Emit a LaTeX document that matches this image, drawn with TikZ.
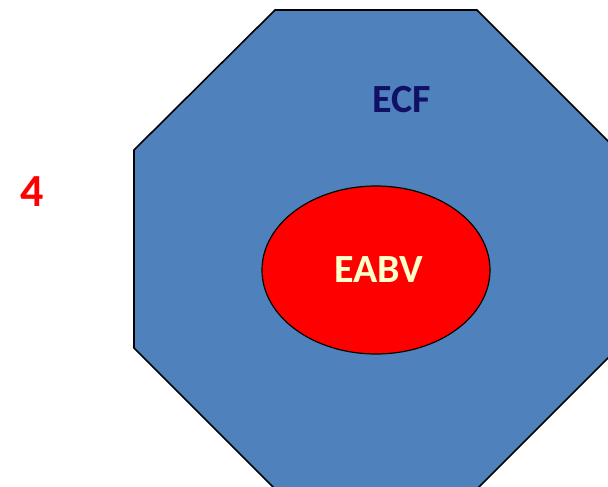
\documentclass[tikz,border=0pt]{standalone}
\usepackage{fontspec}
\setmainfont{Carlito}
\usetikzlibrary{shapes.geometric}

\definecolor{ecfblue}{RGB}{79,129,189}
\definecolor{ecfnavy}{RGB}{16,16,100}
\definecolor{eabvcream}{RGB}{255,255,204}

\tikzset{
  compartment/.style={fill=ecfblue, draw=black, line width=1.6pt, line join=miter},
  vessel/.style={ellipse, fill=red, draw=black, line width=1.2pt,
                 minimum width=228pt, minimum height=168pt, inner sep=0pt},
  tag/.style={font=\fontsize{40}{48}\selectfont\bfseries, inner sep=0pt}
}

\begin{document}
\begin{tikzpicture}[x=1pt,y=-1pt]
        \useasboundingbox (0,0) rectangle (608,487);
        \clip (0,0) rectangle (608,487);

        % octagon (ECF)
        \filldraw[compartment] (275,10) -- (477,10) -- (618,151) -- (618,348)
            -- (477,489) -- (275,489) -- (134,348) -- (134,150) -- cycle;

        \node[vessel] (eabv) at (376,270) {};
        \node[tag, text=eabvcream] (eabvlabel) at (379,270) {EABV};
        \node[tag, text=ecfnavy] (ecf) at (402,100) {ECF};
        \node[tag, text=red, font=\fontsize{46}{52}\selectfont\bfseries] (num) at (32,192) {4};
    \end{tikzpicture}
\end{document}
